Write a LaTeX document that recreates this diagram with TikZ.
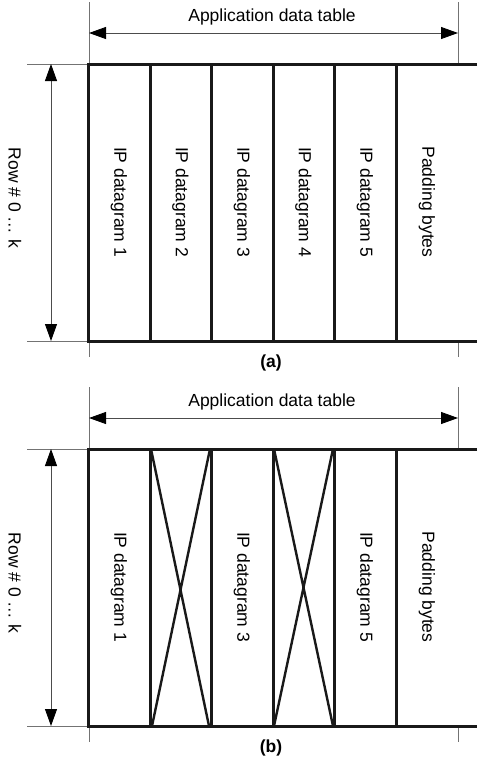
\documentclass[tikz,border=0pt]{standalone}
\usepackage{fontspec}
\setmainfont{Liberation Sans}
\usetikzlibrary{arrows.meta,positioning}
\tikzset{
  tableline/.style={line width=3pt,draw=black!90},
  crossline/.style={line width=2.4pt,draw=black!90},
  guideline/.style={line width=0.9pt,draw=black!55},
  dimarrow/.style={{Triangle[length=17pt,width=12pt,color=black]}-{Triangle[length=17pt,width=12pt,color=black]},
    line width=0.9pt,draw=black!70},
  celllabel/.style={rotate=-90,inner sep=0pt,font=\fontsize{17.5}{20}\selectfont},
  titlelabel/.style={inner sep=0pt,font=\fontsize{17.5}{20}\selectfont},
  captionlabel/.style={inner sep=0pt,font=\fontsize{17.5}{20}\selectfont\bfseries}
}

\begin{document}
\begin{tikzpicture}[x=1pt,y=-1pt]
  \useasboundingbox (0,0) rectangle (477,761);

  % (a) table with every datagram in place
  \begin{scope}[name prefix=a-]
    \draw[guideline] (89,2) -- (89,64) (89,341) -- (89,357);
    \draw[guideline] (458,2) -- (458,64) (458,341) -- (458,357);
    \draw[guideline] (27,64) -- (88,64) (27,341) -- (88,341);
    \draw[tableline] (477,64) -- (88,64) -- (88,341) -- (477,341);
    \draw[tableline] (150,64) -- (150,341) (211,64) -- (211,341) (273,64) -- (273,341)
      (334,64) -- (334,341) (396,64) -- (396,341);
    \coordinate (left) at (89,33);
    \coordinate (right) at (458,33);
    \coordinate (top) at (51,64);
    \coordinate (bottom) at (51,341);
    \draw[dimarrow] (left) -- (right);
    \draw[dimarrow] (top) -- (bottom);
    \node[titlelabel] (title) at (272,17) {Application data table};
    \node[celllabel] (rows) at (15,198) {Row \# 0 \dots\ k};
    \node[celllabel] (ip1) at (119,202) {IP datagram 1};
    \node[celllabel] (ip2) at (180.5,202) {IP datagram 2};
    \node[celllabel] (ip3) at (242,202) {IP datagram 3};
    \node[celllabel] (ip4) at (303.5,202) {IP datagram 4};
    \node[celllabel] (ip5) at (365,202) {IP datagram 5};
    \node[celllabel] (pad) at (427,202) {Padding bytes};
    \node[captionlabel] (caption) at (271,363) {(a)};
  \end{scope}

  % (b) datagrams 2 and 4 crossed out
  \begin{scope}[shift={(0,385)},name prefix=b-]
    \draw[guideline] (89,2) -- (89,64) (89,341) -- (89,357);
    \draw[guideline] (458,2) -- (458,64) (458,341) -- (458,357);
    \draw[guideline] (27,64) -- (88,64) (27,341) -- (88,341);
    \draw[tableline] (477,64) -- (88,64) -- (88,341) -- (477,341);
    \draw[tableline] (150,64) -- (150,341) (211,64) -- (211,341) (273,64) -- (273,341)
      (334,64) -- (334,341) (396,64) -- (396,341);
    \draw[crossline] (151,64) -- (209,341) (210,64) -- (152,341);
    \draw[crossline] (274,64) -- (333,341) (333,64) -- (274,341);
    \coordinate (left) at (89,33);
    \coordinate (right) at (458,33);
    \coordinate (top) at (51,64);
    \coordinate (bottom) at (51,341);
    \draw[dimarrow] (left) -- (right);
    \draw[dimarrow] (top) -- (bottom);
    \node[titlelabel] (title) at (272,17) {Application data table};
    \node[celllabel] (rows) at (15,198) {Row \# 0 \dots\ k};
    \node[celllabel] (ip1) at (119,202) {IP datagram 1};
    \node[celllabel] (ip3) at (242,202) {IP datagram 3};
    \node[celllabel] (ip5) at (365,202) {IP datagram 5};
    \node[celllabel] (pad) at (427,202) {Padding bytes};
    \node[captionlabel] (caption) at (271,363) {(b)};
  \end{scope}
\end{tikzpicture}
\end{document}
